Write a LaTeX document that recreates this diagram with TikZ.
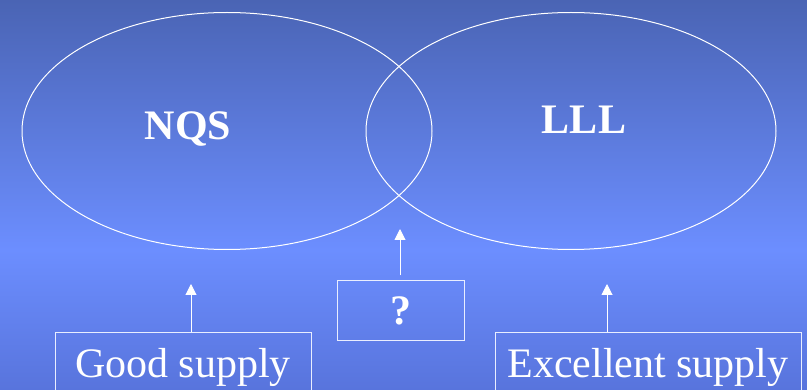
\documentclass[tikz,border=0pt]{standalone}
\usepackage{fontspec}
\setmainfont{Liberation Serif}
\usetikzlibrary{shapes.geometric,arrows.meta}
\definecolor{skytop}{RGB}{74,100,180}
\definecolor{skymid}{RGB}{108,142,255}
\definecolor{skybot}{RGB}{88,116,220}

\begin{document}
\begin{tikzpicture}[x=1pt,y=-1pt,>={Triangle[width=11pt,length=11pt]},
  set/.style={ellipse,draw=white,line width=1pt,minimum width=410pt,minimum height=237pt,inner sep=0pt},
  setname/.style={text=white,anchor=base,font=\fontsize{42}{48}\selectfont\bfseries},
  supply/.style={draw=white!85!skymid,line width=1pt,text=white,inner sep=0pt,anchor=base,
    font=\fontsize{42}{48}\selectfont,text height=45pt,text depth=40pt}]
  \useasboundingbox (0,0) rectangle (807,390);
  \clip (0,0) rectangle (807,390);
  % background
  \shade[top color=skytop,bottom color=skymid] (0,0) rectangle (807,250);
  \shade[top color=skymid,bottom color=skybot] (0,250) rectangle (807,390);
  % the two sets
  \node[set] (nqs) at (227,131) {};
  \node[set] (lll) at (571,131) {};
  \node[setname] (nqslabel) at (188,140) {NQS};
  \node[setname] (llllabel) at (584,134) {LLL};
  % boxes below
  \node[supply,minimum width=256pt] (good) at (183,378) {Good supply};
  \node[supply,minimum width=306pt] (excellent) at (648,378) {Excellent supply};
  \node[draw=white!85!skymid,line width=1pt,text=white,minimum width=127pt,minimum height=60pt,
    font=\fontsize{42}{48}\selectfont\bfseries] (unknown) at (401,311) {?};
  \coordinate (goodtip) at (191,284);
  \coordinate (excellenttip) at (607,284);
  \coordinate (unknowntip) at (400,229);
  \draw[->,white,line width=1pt] (goodtip |- good.north) -- (goodtip);
  \draw[->,white,line width=1pt] (excellenttip |- excellent.north) -- (excellenttip);
  \draw[->,white,line width=1pt,shorten <=5pt] (unknowntip |- unknown.north) -- (unknowntip);
\end{tikzpicture}
\end{document}
